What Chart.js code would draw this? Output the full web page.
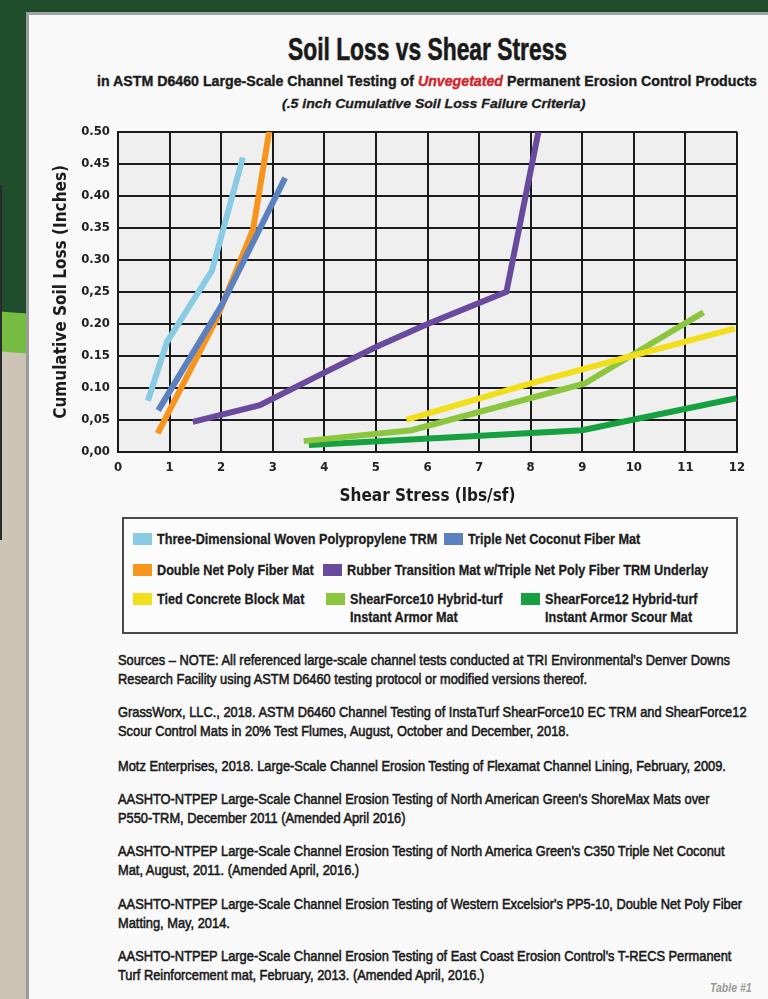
<!DOCTYPE html>
<html>
<head>
<meta charset="utf-8">
<title>Soil Loss vs Shear Stress</title>
<script src="https://cdn.jsdelivr.net/npm/chart.js@4.4.0/dist/chart.umd.min.js"></script>
<style>
    body {
        margin: 0;
        width: 768px;
        height: 999px;
        position: relative;
        overflow: hidden;
        background: #cec4b6;
        font-family: 'Liberation Sans', Arial, sans-serif;
        color: #1c1c1c;
    }
    .bg-dark { position: absolute; left: 0; top: 0; width: 40px; height: 314px; background: #1f4d2b; }
    .bg-light { position: absolute; left: 0; top: 313px; width: 40px; height: 40px; background: #76bc43; transform: skewY(4deg); }
    .bg-top { position: absolute; left: 0; top: 0; width: 768px; height: 14px; background: #1f4d2b; }
    .bg-line { position: absolute; left: 0; top: 185px; width: 2px; height: 355px; background: #2a2a2a; }
    .panel {
        position: absolute; left: 26px; top: 12px; width: 760px; height: 1000px;
        background: #f9f9f9;
        border-left: 3px solid #9b9b9b;
        border-top: 3px solid #a4a4a4;
    }
    .fit { position: absolute; white-space: nowrap; transform-origin: 0 0; }
    #title { left: 288px; top: 33px; font-size: 31px; line-height: 34px; font-weight: bold; color: #1a1a1a; -webkit-text-stroke: 0.6px #1a1a1a; }
    #subtitle { left: 97px; top: 72px; font-size: 15.5px; line-height: 18px; font-weight: bold; -webkit-text-stroke: 0.4px #1c1c1c; }
    #subtitle em { color: #d2232a; -webkit-text-stroke: 0.4px #d2232a; }
    #criteria { left: 282px; top: 96px; font-size: 13px; line-height: 16px; font-weight: bold; font-style: italic; -webkit-text-stroke: 0.3px #1c1c1c; }
    #chartBox { position: absolute; left: 40px; top: 116px; width: 715px; height: 396px; }
    #legend {
        position: absolute; left: 122px; top: 517px; width: 612px; height: 113px;
        border: 2px solid #4a4a4a; background: #fcfcfc;
    }
    .item { position: absolute; white-space: nowrap; }
    .item-text { display: inline-block; font-weight: bold; font-size: 14.5px; line-height: 18px; transform-origin: 0 0; -webkit-text-stroke: 0.3px #1c1c1c; }
    .swatch { position: absolute; left: -24px; top: 3px; width: 19px; height: 12px; }
    .src { left: 118px; font-size: 14px; line-height: 19px; color: #1a1a1a; -webkit-text-stroke: 0.55px #1a1a1a; }
    #tableNo { left: 710px; top: 981px; font-size: 12px; line-height: 14px; font-style: italic; font-weight: bold; color: #9a9a9a; }
</style>
</head>
<body>
<div class="bg-top"></div>
<div class="bg-dark"></div>
<div class="bg-light"></div>
<div class="bg-line"></div>
<div class="panel"></div>

<div id="title" class="fit">Soil Loss vs Shear Stress</div>
<div id="subtitle" class="fit">in ASTM D6460 Large-Scale Channel Testing of <em>Unvegetated</em> Permanent Erosion Control Products</div>
<div id="criteria" class="fit">(.5 inch Cumulative Soil Loss Failure Criteria)</div>

<div id="chartBox"><canvas id="soilChart"></canvas></div>

<div id="legend"></div>

<div id="src1" class="fit src" style="top:651px">Sources – NOTE: All referenced large-scale channel tests conducted at TRI Environmental's Denver Downs<br>Research Facility using ASTM D6460 testing protocol or modified versions thereof.</div>
<div class="fit src" style="top:703px">GrassWorx, LLC., 2018. ASTM D6460 Channel Testing of InstaTurf ShearForce10 EC TRM and ShearForce12<br>Scour Control Mats in 20% Test Flumes, August, October and December, 2018.</div>
<div class="fit src" style="top:757px">Motz Enterprises, 2018. Large-Scale Channel Erosion Testing of Flexamat Channel Lining, February, 2009.</div>
<div class="fit src" style="top:790px">AASHTO-NTPEP Large-Scale Channel Erosion Testing of North American Green's ShoreMax Mats over<br>P550-TRM, December 2011 (Amended April 2016)</div>
<div class="fit src" style="top:842px">AASHTO-NTPEP Large-Scale Channel Erosion Testing of North America Green's C350 Triple Net Coconut<br>Mat, August, 2011. (Amended April, 2016.)</div>
<div class="fit src" style="top:895px">AASHTO-NTPEP Large-Scale Channel Erosion Testing of Western Excelsior's PP5-10, Double Net Poly Fiber<br>Matting, May, 2014.</div>
<div class="fit src" style="top:947px">AASHTO-NTPEP Large-Scale Channel Erosion Testing of East Coast Erosion Control's T-RECS Permanent<br>Turf Reinforcement mat, February, 2013. (Amended April, 2016.)</div>
<div id="tableNo" class="fit">Table #1</div>

<script>
// Series names (legend order)
const seriesNames = [
    'Three-Dimensional Woven Polypropylene TRM',
    'Triple Net Coconut Fiber Mat',
    'Double Net Poly Fiber Mat',
    'Rubber Transition Mat w/Triple Net Poly Fiber TRM Underlay',
    'Tied Concrete Block Mat',
    'ShearForce10 Hybrid-turf Instant Armor Mat',
    'ShearForce12 Hybrid-turf Instant Armor Scour Mat'
];
const seriesColors = ['#88cbe3', '#5a80bf', '#f7941d', '#6a4a9c', '#f1df1c', '#8cc63f', '#17a03f'];

// Shear stress (lbs/sf) and cumulative soil loss (inches)
const wovenStress = [0.58, 0.95, 1.82, 2.42];
const wovenLoss = [0.08, 0.172, 0.283, 0.46];

const coconutStress = [0.78, 2.0, 3.24];
const coconutLoss = [0.065, 0.228, 0.428];

const doubleNetStress = [0.77, 1.9, 2.62, 2.93];
const doubleNetLoss = [0.029, 0.206, 0.348, 0.50];

const rubberStress = [1.45, 2.75, 4.0, 5.0, 6.0, 7.53, 8.15];
const rubberLoss = [0.047, 0.073, 0.124, 0.164, 0.20, 0.25, 0.50];

const blockStress = [5.59, 8.0, 10.0, 11.96];
const blockLoss = [0.05, 0.107, 0.151, 0.193];

const sf10Stress = [3.6, 5.69, 9.05, 10.0, 11.35];
const sf10Loss = [0.017, 0.034, 0.107, 0.153, 0.218];

const sf12Stress = [3.7, 9.0, 11.99];
const sf12Loss = [0.011, 0.034, 0.084];

// Axis tick labels (as printed, mixed decimal marks)
const xTickLabels = ['0', '1', '2', '3', '4', '5', '6', '7', '8', '9', '10', '11', '12'];
const yTickLabels = ['0,00', '0,05', '0.10', '0.15', '0.20', '0,25', '0.30', '0.35', '0.40', '0.45', '0.50'];

const stressSets = [wovenStress, coconutStress, doubleNetStress, rubberStress, blockStress, sf10Stress, sf12Stress];
const lossSets = [wovenLoss, coconutLoss, doubleNetLoss, rubberLoss, blockLoss, sf10Loss, sf12Loss];

Chart.defaults.font.family = "'DejaVu Sans Condensed', 'Liberation Sans', sans-serif";

// Light grey fill behind the grid
const plotBackground = {
    id: 'plotBackground',
    beforeDraw(chart) {
        const { ctx, chartArea } = chart;
        ctx.save();
        ctx.fillStyle = '#efefef';
        ctx.fillRect(chartArea.left, chartArea.top, chartArea.right - chartArea.left, chartArea.bottom - chartArea.top);
        ctx.restore();
    }
};

const datasets = seriesNames.map((name, i) => ({
    label: name,
    data: stressSets[i].map((x, j) => ({ x: x, y: lossSets[i][j] })),
    borderColor: seriesColors[i],
    backgroundColor: seriesColors[i],
    borderWidth: 6,
    pointRadius: 0,
    tension: 0,
    borderCapStyle: 'butt'
}));

new Chart(document.getElementById('soilChart'), {
    type: 'line',
    data: { datasets: datasets },
    options: {
        responsive: true,
        maintainAspectRatio: false,
        animation: false,
        layout: { padding: { top: 3, right: 18 } },
        plugins: {
            legend: { display: false },
            tooltip: { enabled: false }
        },
        scales: {
            x: {
                type: 'linear',
                min: 0,
                max: 12,
                ticks: {
                    stepSize: 1,
                    padding: 8,
                    color: '#222',
                    font: { size: 13, weight: 'bold' },
                    callback: (value) => xTickLabels[value]
                },
                grid: { color: '#1b1b1b', lineWidth: 2, drawTicks: false },
                border: { color: '#1b1b1b', width: 2 },
                title: {
                    display: true,
                    text: 'Shear Stress (lbs/sf)',
                    color: '#1c1c1c',
                    font: { size: 17, weight: 'bold' },
                    padding: { top: 0, bottom: 5 }
                },
                afterFit: (scale) => { scale.height = 60; }
            },
            y: {
                min: 0,
                max: 0.5,
                ticks: {
                    stepSize: 0.05,
                    padding: 8,
                    color: '#222',
                    font: { size: 13, weight: 'bold' },
                    callback: (value) => yTickLabels[Math.round(value / 0.05)]
                },
                grid: { color: '#1b1b1b', lineWidth: 2, drawTicks: false },
                border: { color: '#1b1b1b', width: 2 },
                title: {
                    display: true,
                    text: 'Cumulative Soil Loss (Inches)',
                    color: '#1c1c1c',
                    font: { size: 17, weight: 'bold' },
                    padding: { top: 11, bottom: 0 }
                },
                afterFit: (scale) => { scale.width = 78; }
            }
        }
    },
    plugins: [plotBackground]
});

// Custom legend laid out like the printed key
const legendSpots = [
    { left: 33, top: 11 },
    { left: 344, top: 11 },
    { left: 33, top: 42 },
    { left: 223, top: 42 },
    { left: 33, top: 71 },
    { left: 226, top: 71 },
    { left: 421, top: 71 }
];
const legendLines = [
    [seriesNames[0]],
    [seriesNames[1]],
    [seriesNames[2]],
    [seriesNames[3]],
    [seriesNames[4]],
    ['ShearForce10 Hybrid-turf', 'Instant Armor Mat'],
    ['ShearForce12 Hybrid-turf', 'Instant Armor Scour Mat']
];
const legendEl = document.getElementById('legend');
const legendTexts = legendSpots.map((spot, i) => {
    const item = document.createElement('div');
    item.className = 'item';
    item.style.left = spot.left + 'px';
    item.style.top = spot.top + 'px';
    item.innerHTML = '<span class="swatch" style="background:' + seriesColors[i] + '"></span>' +
        '<span class="item-text">' + legendLines[i].join('<br>') + '</span>';
    legendEl.appendChild(item);
    return item.querySelector('.item-text');
});

// Squeeze the text horizontally to the condensed widths of the print
function squeeze(el, s) { el.style.transform = 'scaleX(' + s + ')'; }
function fitTo(el, width) { const s = width / el.offsetWidth; squeeze(el, s); return s; }

fitTo(document.getElementById('title'), 279);
fitTo(document.getElementById('subtitle'), 660);
fitTo(document.getElementById('criteria'), 303);
const srcScale = fitTo(document.getElementById('src1'), 612);
document.querySelectorAll('.src').forEach(el => squeeze(el, srcScale));
fitTo(document.getElementById('tableNo'), 42);
const legScale = 280 / legendTexts[0].offsetWidth;
legendTexts.forEach(el => squeeze(el, legScale));
</script>
</body>
</html>
